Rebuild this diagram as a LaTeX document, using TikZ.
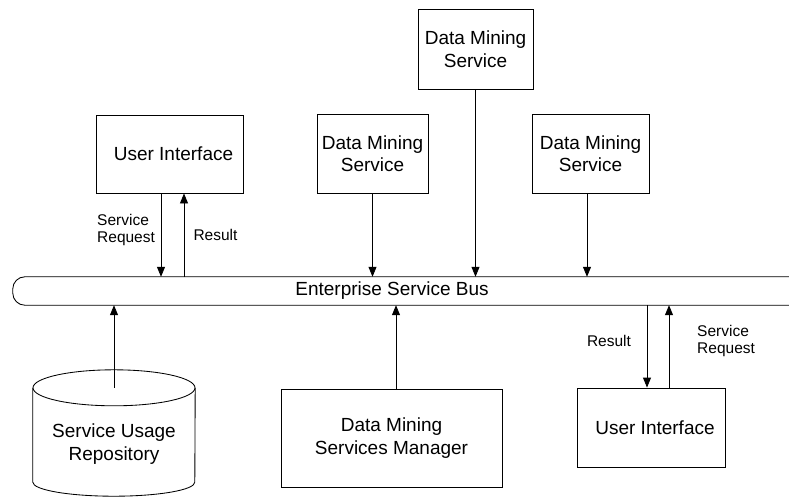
\documentclass[tikz,border=0pt]{standalone}
\usepackage{fontspec}
\setmainfont{Liberation Sans}
\usetikzlibrary{arrows.meta}
\begin{document}
\begin{tikzpicture}[x=1pt,y=-1pt,
  box/.style={draw,line width=0.85pt,inner sep=0pt,align=center,font=\fontsize{19}{22.5}\selectfont},
  lbl/.style={inner sep=0pt,align=left,font=\fontsize{15.5}{17.5}\selectfont},
  arr/.style={line width=0.85pt,-{Triangle[length=10pt,width=8pt]}}]
\useasboundingbox (0,0) rectangle (789,498);
% boxes
\node[box,minimum width=115,minimum height=80] (dmsT) at (475.5,49) {Data Mining\\Service};
\node[box,minimum width=111,minimum height=79] (dmsL) at (372.5,153.5) {Data Mining\\Service};
\node[box,minimum width=117,minimum height=79] (dmsR) at (590.5,153.5) {Data Mining\\Service};
\node[box,minimum width=147,minimum height=78] (uiT) at (169.5,154) {\hspace*{8pt}User Interface};
\node[box,minimum width=148,minimum height=79] (uiB) at (651,427.5) {\hspace*{8pt}User Interface};
\node[box,minimum width=221,minimum height=98] (mgr) at (391.5,438) {Data Mining\\Services Manager};
% bus
\node[minimum width=776,minimum height=28,inner sep=0pt,font=\fontsize{19}{22.5}\selectfont] (bus) at (401,291) {\hspace*{-18pt}Enterprise Service Bus};
\draw[line width=0.85pt,rounded corners=12] (bus.north east) -- (bus.north west) -- (bus.south west) -- (bus.south east);
% repository (cylinder)
\node[minimum width=162,minimum height=94,inner sep=0pt] (repo) at (114,435) {};
\draw[line width=0.85pt] (repo.north west) -- (repo.south west)
  arc[start angle=180,end angle=0,x radius=81,y radius=14] -- (repo.north east);
\draw[line width=0.85pt] (repo.north) ellipse[x radius=81,y radius=18];
\node[align=center,inner sep=0pt,font=\fontsize{19}{22.5}\selectfont] (repoText) at ([yshift=-9]repo.center) {Service Usage\\Repository};
% labels
\node[lbl,anchor=west] (lSR1) at (97,230) {Service\\Request};
\node[lbl] (lR1) at (215.5,235) {Result};
\node[lbl] (lR2) at (609,341) {Result};
\node[lbl,anchor=west] (lSR2) at (697,341) {Service\\Request};
% connectors
\draw[arr] ([xshift=-8.5]uiT.south) -- ([xshift=-8.5]uiT.south |- bus.north);
\draw[arr] ([xshift=14.5]uiT.south |- bus.north) -- ([xshift=14.5]uiT.south);
\draw[arr] (dmsL.south) -- (dmsL.south |- bus.north);
\draw[arr] (dmsT.south) -- (dmsT.south |- bus.north);
\draw[arr] ([xshift=-3.5]dmsR.south) -- ([xshift=-3.5]dmsR.south |- bus.north);
\draw[arr] (repo.north) -- (repo.north |- bus.south);
\draw[arr] ([xshift=4.5]mgr.north) -- ([xshift=4.5]mgr.north |- bus.south);
\draw[arr] ([xshift=-4]uiB.north |- bus.south) -- ([xshift=-4]uiB.north);
\draw[arr] ([xshift=18]uiB.north) -- ([xshift=18]uiB.north |- bus.south);
\end{tikzpicture}
\end{document}
